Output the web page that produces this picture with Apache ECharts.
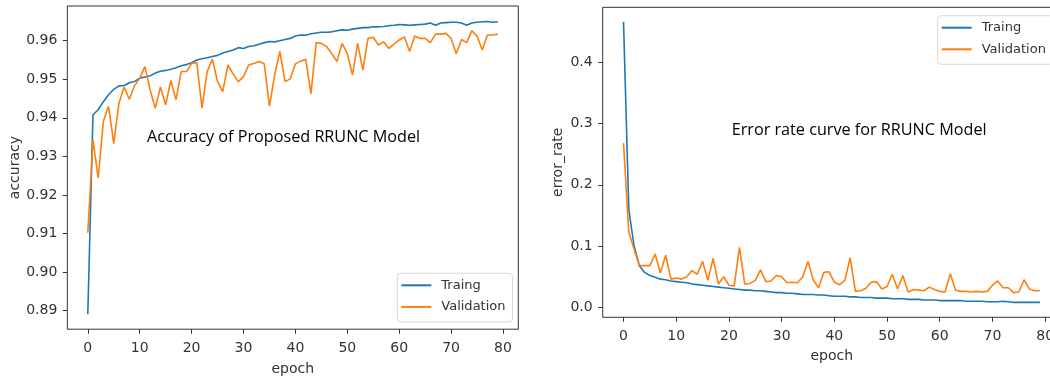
<!DOCTYPE html>
<html>
<head>
<meta charset="utf-8">
<script src="https://cdn.jsdelivr.net/npm/echarts@6.0.0/dist/echarts.min.js"></script>
<style>
  html, body { margin: 0; padding: 0; background: #fff; }
  #chart { width: 1050px; height: 379px; }
</style>
</head>
<body>
<div id="chart"></div>
<script>
const seriesNames = ['Traing', 'Validation']
const epochTicks = [0, 10, 20, 30, 40, 50, 60, 70, 80]
const accTicks = [0.89, 0.90, 0.91, 0.92, 0.93, 0.94, 0.95, 0.96]
const errTicks = [0.0, 0.1, 0.2, 0.3, 0.4]

const trainAcc = [0.8891, 0.9408, 0.9421, 0.9442, 0.9460, 0.9474, 0.9483, 0.9484, 0.9491, 0.9494,
  0.9503, 0.9506, 0.9509, 0.9516, 0.9521, 0.9523, 0.9526, 0.9530, 0.9535, 0.9538,
  0.9543, 0.9550, 0.9553, 0.9556, 0.9559, 0.9562, 0.9568, 0.9572, 0.9576, 0.9582,
  0.9580, 0.9585, 0.9587, 0.9591, 0.9595, 0.9598, 0.9597, 0.9600, 0.9603, 0.9606,
  0.9612, 0.9615, 0.9614, 0.9618, 0.9620, 0.9622, 0.9622, 0.9623, 0.9626, 0.9628,
  0.9627, 0.9630, 0.9632, 0.9634, 0.9634, 0.9636, 0.9636, 0.9637, 0.9639, 0.9640,
  0.9642, 0.9641, 0.9640, 0.9641, 0.9642, 0.9643, 0.9646, 0.9640, 0.9646, 0.9647,
  0.9648, 0.9648, 0.9646, 0.9640, 0.9646, 0.9648, 0.9649, 0.9650, 0.9648, 0.9649]
const valAcc = [0.9102, 0.9343, 0.9244, 0.9391, 0.9430, 0.9333, 0.9438, 0.9480, 0.9448, 0.9483,
  0.9503, 0.9533, 0.9473, 0.9425, 0.9480, 0.9434, 0.9497, 0.9447, 0.9520, 0.9520,
  0.9541, 0.9543, 0.9425, 0.9520, 0.9552, 0.9494, 0.9468, 0.9537, 0.9514, 0.9494,
  0.9507, 0.9537, 0.9541, 0.9546, 0.9540, 0.9430, 0.9511, 0.9572, 0.9494, 0.9501,
  0.9540, 0.9547, 0.9552, 0.9462, 0.9595, 0.9593, 0.9585, 0.9567, 0.9546, 0.9593,
  0.9567, 0.9511, 0.9593, 0.9524, 0.9606, 0.9609, 0.9589, 0.9597, 0.9580, 0.9591,
  0.9602, 0.9610, 0.9572, 0.9612, 0.9606, 0.9606, 0.9595, 0.9617, 0.9617, 0.9619,
  0.9606, 0.9566, 0.9603, 0.9595, 0.9626, 0.9612, 0.9576, 0.9615, 0.9615, 0.9617]

const trainErr = [0.466, 0.160, 0.100, 0.068, 0.057, 0.052, 0.049, 0.046, 0.045, 0.043,
  0.042, 0.041, 0.040, 0.038, 0.037, 0.036, 0.035, 0.034, 0.033, 0.032,
  0.031, 0.030, 0.029, 0.028, 0.028, 0.027, 0.027, 0.026, 0.025, 0.024,
  0.024, 0.023, 0.023, 0.022, 0.021, 0.021, 0.021, 0.020, 0.020, 0.019,
  0.018, 0.018, 0.018, 0.017, 0.017, 0.016, 0.016, 0.016, 0.015, 0.015,
  0.015, 0.014, 0.014, 0.014, 0.013, 0.013, 0.013, 0.012, 0.012, 0.012,
  0.011, 0.011, 0.011, 0.011, 0.011, 0.010, 0.010, 0.010, 0.010, 0.009,
  0.009, 0.009, 0.010, 0.009, 0.008, 0.008, 0.008, 0.008, 0.008, 0.008]
const valErr = [0.268, 0.123, 0.095, 0.068, 0.068, 0.068, 0.087, 0.056, 0.085, 0.046,
  0.048, 0.046, 0.050, 0.060, 0.054, 0.075, 0.044, 0.080, 0.038, 0.050,
  0.036, 0.035, 0.098, 0.038, 0.039, 0.044, 0.061, 0.042, 0.043, 0.052,
  0.050, 0.040, 0.041, 0.040, 0.050, 0.075, 0.045, 0.032, 0.057, 0.058,
  0.041, 0.037, 0.044, 0.081, 0.026, 0.027, 0.031, 0.041, 0.042, 0.030,
  0.034, 0.054, 0.030, 0.052, 0.025, 0.029, 0.028, 0.027, 0.033, 0.029,
  0.026, 0.025, 0.055, 0.028, 0.026, 0.026, 0.025, 0.026, 0.025, 0.026,
  0.036, 0.043, 0.032, 0.032, 0.024, 0.025, 0.045, 0.030, 0.027, 0.027]

const blue = '#1f77b4'
const orange = '#ff7f0e'
const textColor = '#333'
const tickFont = { color: textColor, fontSize: 14, fontFamily: 'DejaVu Sans' }

const pairs = arr => arr.map((v, i) => [i, v])

const xAxisFor = (gridIndex, gap) => ({
  type: 'value',
  gridIndex,
  min: -3.95,
  max: 82.95,
  name: 'epoch',
  nameLocation: 'middle',
  nameGap: gap,
  nameTextStyle: tickFont,
  splitLine: { show: false },
  axisLine: { show: false, onZero: false },
  axisTick: { show: true, inside: false, length: 4.5, lineStyle: { color: textColor }, customValues: epochTicks },
  axisLabel: { ...tickFont, margin: 12, customValues: epochTicks },
})

const yAxisFor = (gridIndex, min, max, ticks, digits, name, gap) => ({
  type: 'value',
  gridIndex,
  min,
  max,
  name,
  nameLocation: 'middle',
  nameGap: gap,
  nameTextStyle: tickFont,
  splitLine: { show: false },
  axisLine: { show: false, onZero: false },
  axisTick: { show: true, inside: false, length: 4.5, lineStyle: { color: textColor }, customValues: ticks },
  axisLabel: {
    ...tickFont,
    margin: 10,
    customValues: ticks,
    formatter: v => v.toFixed(digits),
  },
})

const lineSeries = (name, data, color, idx) => ({
  type: 'line',
  name,
  data: pairs(data),
  xAxisIndex: idx,
  yAxisIndex: idx,
  showSymbol: false,
  symbol: 'none',
  color,
  lineStyle: { width: 1.6, color },
  animation: false,
})

const legendFor = (left, top) => ({
  orient: 'vertical',
  left,
  top,
  data: seriesNames,
  icon: 'rect',
  itemWidth: 30,
  itemHeight: 2,
  itemGap: 5.6,
  padding: [4, 7, 7, 4],
  backgroundColor: '#fff',
  borderColor: '#d8d8d8',
  borderWidth: 1,
  borderRadius: 3,
  textStyle: { ...tickFont, fontSize: 13, lineHeight: 16, padding: [0, 0, 0, 5] },
})

const chart = echarts.init(document.getElementById('chart'))
chart.setOption({
  backgroundColor: '#fff',
  animation: false,
  grid: [
    { left: 67.3, top: 6, width: 451, height: 323.2, outerBoundsMode: 'none', show: true, borderColor: textColor, borderWidth: 1, backgroundColor: '#fff' },
    { left: 602.7, top: 7.3, width: 458, height: 310, outerBoundsMode: 'none', show: true, borderColor: textColor, borderWidth: 1, backgroundColor: '#fff' },
  ],
  xAxis: [xAxisFor(0, 33), xAxisFor(1, 32)],
  yAxis: [
    yAxisFor(0, 0.8852, 0.9690, accTicks, 2, 'accuracy', 45),
    yAxisFor(1, -0.0163, 0.4898, errTicks, 1, 'error_rate', 37),
  ],
  legend: [legendFor(397.3, 273.3), legendFor(937.7, 15.7)],
  series: [
    lineSeries(seriesNames[0], trainAcc, blue, 0),
    lineSeries(seriesNames[1], valAcc, orange, 0),
    lineSeries(seriesNames[0], trainErr, blue, 1),
    lineSeries(seriesNames[1], valErr, orange, 1),
  ],
  graphic: [
    {
      type: 'text', left: 147, top: 129,
      style: { text: 'Accuracy of Proposed RRUNC Model', fill: '#000', font: '16.2px "Open Sans"' },
    },
    {
      type: 'text', left: 731.7, top: 122.4,
      style: { text: 'Error rate curve for RRUNC Model', fill: '#000', font: '16.2px "Open Sans"' },
    },
  ],
})
</script>
</body>
</html>
